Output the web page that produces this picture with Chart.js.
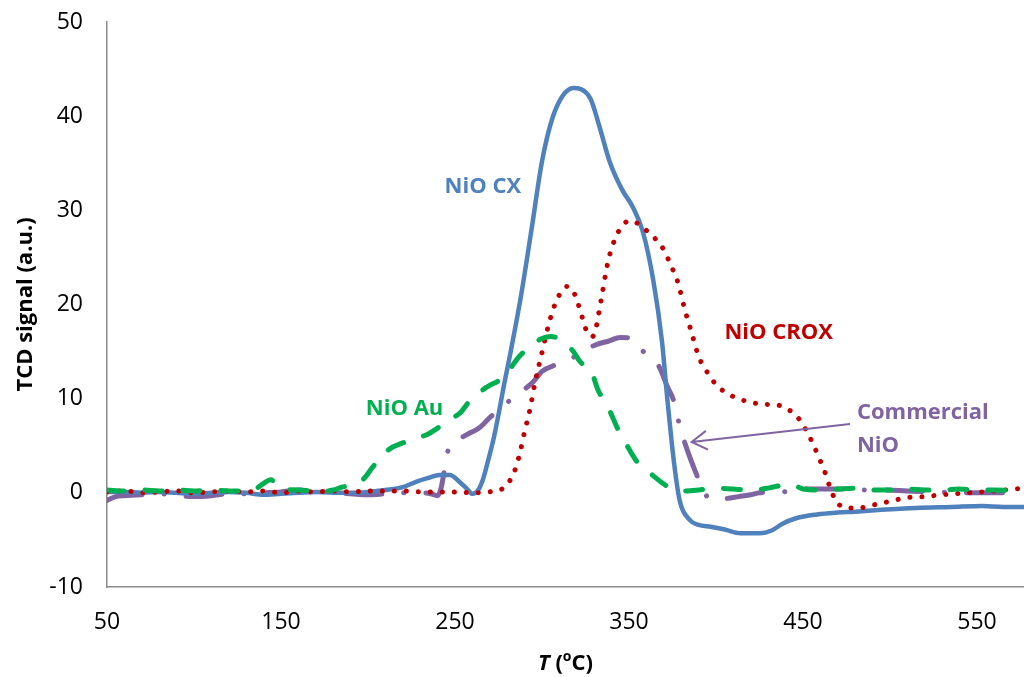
<!DOCTYPE html>
<html>
<head>
<meta charset="utf-8">
<script src="https://cdn.jsdelivr.net/npm/chart.js@4/dist/chart.umd.min.js"></script>
<style>
  body { margin: 0; background: #fff; }
  #wrap { width: 1024px; height: 677px; }
</style>
</head>
<body>
<div id="wrap"><canvas id="tpr" width="1024" height="677"></canvas></div>
<script>
// Axis ticks
const xTicks = [50, 150, 250, 350, 450, 550];
const yTicks = [-10, 0, 10, 20, 30, 40, 50];

// NiO CX (blue, solid)
const cxT = [50,60,70,80,90,100,110,120,130,140,150,160,170,180,190,200,210,220,228,235,241,247,253,257,260,263,266,269,272,275,278,282,288,294,300,306,312,318,322,328,333,339,346,352,358,364,369,372,376,379,385,390,397,405,414,420,425,432,438,446,458,470,480,495,515,535,553,565,577];
const cxV = [0.1,0.1,0,0.1,0,-0.1,0,0.1,0,-0.2,-0.1,0,0.1,0,0,0.1,0.3,0.6,1.2,1.6,1.9,1.9,1.1,0.4,-0.1,0.2,1.4,3.4,5.6,8.3,11.3,15,21,28,35.2,39.8,42.2,43,42.9,41.8,38.9,35.1,32.2,30.4,27.7,22.5,16,10,3,-0.7,-2.9,-3.4,-3.6,-3.9,-4.3,-4.3,-4.3,-4,-3.3,-2.7,-2.3,-2.1,-2,-1.8,-1.6,-1.5,-1.4,-1.5,-1.5];

// NiO CROX (red, dotted)
const croxT = [50,60,70,80,90,100,110,120,130,140,150,160,170,180,190,200,210,220,230,240,250,260,270,276,280,284,287,290,293,296,300,304,308,311,314,317,320,323,326,329,331,334,338,342,346,350,355,361,366,370,374,378,382,386,390,395,400,406,413,420,428,436,442,447,451,455,459,463,466,470,475,482,490,500,510,520,530,545,560,577];
const croxV = [0.1,0.2,0,0.1,0.2,0,0.1,0.2,0.1,0.2,0,0.2,0.1,0.2,0.1,0.2,0.2,0.2,0.1,0.1,0.1,0,0.1,0.3,0.9,2.2,4,6.5,8.8,11.7,14.9,18,20.3,21.3,21.9,21.7,20.5,18.7,17,16.6,17.5,20.5,24.6,27,28.3,28.9,28.6,27.7,26.8,25.8,24.2,22.4,19.5,17,14.5,12.8,11.5,10.6,10,9.6,9.4,9.3,8.8,8,6.9,5.5,3.8,2,0.3,-1.1,-1.6,-1.6,-1.3,-0.9,-0.5,-0.4,-0.2,0,0.2,0.5];

// NiO Au (green, dashed)
const auT = [50,60,70,80,90,100,110,120,130,136,140,144,150,160,170,176,180,185,190,197,203,212,220,228,234,241,247,253,259,268,278,287,293,299,305,313,318,322,328,332,338,343,348,355,362,368,374,382,390,400,410,420,430,438,444,450,460,470,480,490,500,510,520,530,540,550,560,577];
const auV = [0.3,0.2,0.3,0.2,0.3,0.2,0.3,0.2,0.2,0.5,1,1.4,0.4,0.3,0.2,0.2,0.3,0.6,0.8,1.4,2.8,4.6,5.3,5.8,6.2,7,7.8,8.5,9.9,11.2,12.3,14.5,15.5,16.3,16.6,16,15,13.9,13.1,11,9.1,7,5.3,3.2,2.1,1.2,0.5,0.2,0.3,0.5,0.4,0.3,0.5,0.8,0.85,0.4,0.3,0.4,0.5,0.3,0.3,0.4,0.3,0.3,0.4,0.3,0.3,0.2];

// Commercial NiO (purple, dash-dot)
const comT = [50,55,60,70,80,90,100,110,120,130,140,150,160,170,180,190,200,210,220,230,236,240,242,244,246,250,255,259,264,270,275,280,285,290,295,300,308,315,320,326,332,338,345,352,357,362,367,372,376,379,383,387,392,396,400,406,413,420,425,432,438,448,455,462,470,477,486,496,510,525,546,560,577];
const comV = [-0.8,-0.4,-0.3,-0.2,-0.1,-0.3,-0.4,-0.3,-0.1,-0.1,0,0.1,0.3,0.2,0,-0.1,-0.2,-0.1,0,0,-0.1,-0.3,0.5,2.5,4.5,5.5,6,6.4,6.9,8,8.8,9.6,10.3,11,11.8,12.9,13.6,14.1,14.6,15.3,15.8,16.1,16.5,16.4,15.2,14.5,13.5,11.3,9.6,7.2,4.8,2.8,0.6,-0.6,-0.7,-0.6,-0.4,-0.2,0,0.1,0.1,0.5,0.4,0.4,0.4,0.4,0.3,0.3,0.2,0.1,0,0,0];

// Curve labels, placed in data units
const labels = [
  { text: "NiO CX", t: 266, v: 32.5, color: "#4F81BD", align: "center" },
  { text: "NiO CROX", t: 436, v: 17, color: "#C00000", align: "center" },
  { text: "NiO Au", t: 221, v: 8.9, color: "#00B050", align: "center" },
  { text: "Commercial", t: 481, v: 8.5, color: "#8064A2", align: "left" },
  { text: "NiO", t: 481, v: 5, color: "#8064A2", align: "left" }
];
const arrowFrom = { t: 477, v: 7.3 };
const arrowTo = { t: 386, v: 5.4 };

const FONT = "'Open Sans', 'Liberation Sans', sans-serif";

function pts(ts, vs) {
  return ts.map((t, i) => ({ x: t, y: vs[i] }));
}

const lineBase = {
  pointRadius: 0,
  fill: false,
  borderCapStyle: "round",
  borderJoinStyle: "round",
  cubicInterpolationMode: "monotone"
};

// labels, arrow and axis titles
const overlay = {
  id: "overlay",
  afterDraw(chart) {
    const ctx = chart.ctx;
    const xs = chart.scales.x, ys = chart.scales.y;
    ctx.save();
    ctx.font = "bold 22px " + FONT;
    ctx.textBaseline = "middle";
    labels.forEach(l => {
      ctx.fillStyle = l.color;
      ctx.textAlign = l.align;
      ctx.fillText(l.text, xs.getPixelForValue(l.t), ys.getPixelForValue(l.v));
    });

    // arrow to the commercial curve
    const x1 = xs.getPixelForValue(arrowFrom.t), y1 = ys.getPixelForValue(arrowFrom.v);
    const x2 = xs.getPixelForValue(arrowTo.t), y2 = ys.getPixelForValue(arrowTo.v);
    const ang = Math.atan2(y1 - y2, x1 - x2);
    ctx.strokeStyle = "#8064A2";
    ctx.lineWidth = 2;
    ctx.beginPath();
    ctx.moveTo(x1, y1);
    ctx.lineTo(x2, y2);
    ctx.moveTo(x2 + 18 * Math.cos(ang - 0.55), y2 + 18 * Math.sin(ang - 0.55));
    ctx.lineTo(x2, y2);
    ctx.lineTo(x2 + 18 * Math.cos(ang + 0.55), y2 + 18 * Math.sin(ang + 0.55));
    ctx.stroke();

    // y title
    ctx.fillStyle = "#000";
    ctx.save();
    ctx.translate(26, (chart.chartArea.top + chart.chartArea.bottom) / 2);
    ctx.rotate(-Math.PI / 2);
    ctx.textAlign = "center";
    ctx.font = "bold 22px " + FONT;
    ctx.fillText("TCD signal (a.u.)", 0, 0);
    ctx.restore();

    // x title: T (°C) with italic T and raised o
    const parts = [
      { s: "T", f: "italic bold 22px " + FONT, dy: 0 },
      { s: " (", f: "bold 22px " + FONT, dy: 0 },
      { s: "o", f: "bold 14px " + FONT, dy: -7 },
      { s: "C)", f: "bold 22px " + FONT, dy: 0 }
    ];
    let w = 0;
    parts.forEach(p => { ctx.font = p.f; p.w = ctx.measureText(p.s).width; w += p.w; });
    let cx = (chart.chartArea.left + chart.chartArea.right) / 2 - w / 2;
    ctx.textAlign = "left";
    parts.forEach(p => {
      ctx.font = p.f;
      ctx.fillText(p.s, cx, 664 + p.dy);
      cx += p.w;
    });
    ctx.restore();
  }
};

new Chart(document.getElementById("tpr"), {
  type: "line",
  data: {
    datasets: [
      Object.assign({}, lineBase, {
        label: "NiO Au", data: pts(auT, auV), order: 0,
        borderColor: "#00B050", borderWidth: 5, borderDash: [17, 21]
      }),
      Object.assign({}, lineBase, {
        label: "NiO CROX", data: pts(croxT, croxV), order: 1,
        borderColor: "#C00000", borderWidth: 5, borderDash: [0.1, 11.9]
      }),
      Object.assign({}, lineBase, {
        label: "NiO CX", data: pts(cxT, cxV), order: 2,
        borderColor: "#4F81BD", borderWidth: 4.5
      }),
      Object.assign({}, lineBase, {
        label: "Commercial NiO", data: pts(comT, comV), order: 3,
        borderColor: "#8064A2", borderWidth: 5, borderDash: [36, 22, 0.1, 22]
      })
    ]
  },
  options: {
    responsive: false,
    animation: false,
    layout: { padding: { top: 22, right: 0, left: 0, bottom: 0 } },
    plugins: { legend: { display: false }, tooltip: { enabled: false } },
    scales: {
      x: {
        type: "linear",
        min: 50,
        max: 577,
        afterBuildTicks: s => { s.ticks = xTicks.map(v => ({ value: v })); },
        afterFit: s => { s.height = 90; s.paddingLeft = 0; s.paddingRight = 0; },
        grid: { display: false, drawTicks: false },
        border: { color: "#8a8a8a", width: 1.5 },
        ticks: { padding: 22, color: "#000", font: { family: FONT, size: 23 } }
      },
      y: {
        type: "linear",
        min: -10,
        max: 50,
        afterBuildTicks: s => { s.ticks = yTicks.map(v => ({ value: v })); },
        afterFit: s => { s.width = 107; s.paddingTop = 0; s.paddingBottom = 0; },
        grid: { display: false, drawTicks: false },
        border: { color: "#8a8a8a", width: 1.5 },
        ticks: { padding: 24, color: "#000", font: { family: FONT, size: 23 } }
      }
    }
  },
  plugins: [overlay]
});
</script>
</body>
</html>
